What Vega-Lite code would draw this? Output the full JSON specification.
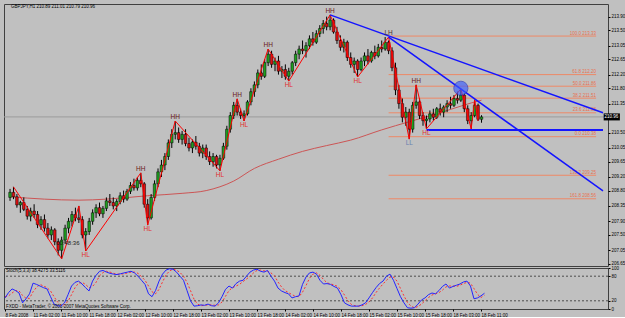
{
"$schema": "https://vega.github.io/schema/vega-lite/v6.json",
"background": "#c0c0c0",
"padding": {"left": 2, "top": 3, "right": 0, "bottom": 0},
"spacing": 2,
"bounds": "flush",
"config": {
  "view": {"stroke": "#404040", "strokeWidth": 1},
  "font": "Liberation Sans",
  "axis": {"title": null, "grid": false, "domain": false, "tickSize": 2, "tickColor": "#000", "labelFontSize": 4.5, "labelColor": "#000", "labelPadding": 1, "labelOverlap": false, "labelFont": "Liberation Sans"}
},
"datasets": {
  "bars": [
{"i":0,"o":208.6,"h":208.85,"l":208.5,"c":208.75,"k":27,"d":30},
{"i":1,"o":208.75,"h":208.91,"l":208.55,"c":208.62,"k":40,"d":32},
{"i":2,"o":208.62,"h":208.7,"l":208.3,"c":208.38,"k":49,"d":39},
{"i":3,"o":208.38,"h":208.5,"l":208.15,"c":208.45,"k":45,"d":45},
{"i":4,"o":208.45,"h":208.6,"l":208.2,"c":208.25,"k":39,"d":44},
{"i":5,"o":208.25,"h":208.35,"l":207.95,"c":208.05,"k":15,"d":33},
{"i":6,"o":208.05,"h":208.3,"l":207.9,"c":208.2,"k":25,"d":26},
{"i":7,"o":208.2,"h":208.4,"l":208.0,"c":208.1,"k":37,"d":26},
{"i":8,"o":208.1,"h":208.2,"l":207.7,"c":207.8,"k":63,"d":42},
{"i":9,"o":207.8,"h":208.05,"l":207.65,"c":207.95,"k":60,"d":53},
{"i":10,"o":207.95,"h":208.1,"l":207.6,"c":207.7,"k":56,"d":60},
{"i":11,"o":207.7,"h":207.85,"l":207.4,"c":207.5,"k":52,"d":56},
{"i":12,"o":207.5,"h":207.75,"l":207.35,"c":207.65,"k":49,"d":52},
{"i":13,"o":207.65,"h":207.7,"l":207.2,"c":207.3,"k":30,"d":44},
{"i":14,"o":207.3,"h":207.4,"l":206.9,"c":207.05,"k":12,"d":30},
{"i":15,"o":207.05,"h":207.45,"l":206.8,"c":207.35,"k":8,"d":17},
{"i":16,"o":207.35,"h":207.8,"l":207.25,"c":207.7,"k":7,"d":9},
{"i":17,"o":207.7,"h":208.0,"l":207.55,"c":207.9,"k":15,"d":10},
{"i":18,"o":207.9,"h":208.2,"l":207.75,"c":208.1,"k":35,"d":19},
{"i":19,"o":208.1,"h":208.3,"l":207.9,"c":208.0,"k":56,"d":35},
{"i":20,"o":208.0,"h":208.35,"l":207.85,"c":207.95,"k":65,"d":52},
{"i":21,"o":207.95,"h":208.05,"l":207.4,"c":207.5,"k":68,"d":63},
{"i":22,"o":207.5,"h":207.7,"l":207.03,"c":207.6,"k":61,"d":65},
{"i":23,"o":207.6,"h":208.0,"l":207.5,"c":207.9,"k":52,"d":60},
{"i":24,"o":207.9,"h":208.25,"l":207.8,"c":208.15,"k":44,"d":52},
{"i":25,"o":208.15,"h":208.4,"l":208.0,"c":208.3,"k":68,"d":55},
{"i":26,"o":208.3,"h":208.45,"l":208.05,"c":208.12,"k":82,"d":65},
{"i":27,"o":208.12,"h":208.35,"l":208.0,"c":208.28,"k":92,"d":81},
{"i":28,"o":208.28,"h":208.6,"l":208.2,"c":208.5,"k":94,"d":89},
{"i":29,"o":208.5,"h":208.7,"l":208.35,"c":208.45,"k":90,"d":92},
{"i":30,"o":208.45,"h":208.6,"l":208.25,"c":208.35,"k":87,"d":90},
{"i":31,"o":208.35,"h":208.55,"l":208.2,"c":208.48,"k":85,"d":87},
{"i":32,"o":208.48,"h":208.75,"l":208.4,"c":208.65,"k":84,"d":85},
{"i":33,"o":208.65,"h":208.8,"l":208.45,"c":208.55,"k":86,"d":85},
{"i":34,"o":208.55,"h":208.85,"l":208.5,"c":208.78,"k":88,"d":86},
{"i":35,"o":208.78,"h":209.05,"l":208.7,"c":208.95,"k":90,"d":88},
{"i":36,"o":208.95,"h":209.15,"l":208.8,"c":208.88,"k":92,"d":90},
{"i":37,"o":208.88,"h":209.2,"l":208.8,"c":209.1,"k":88,"d":90},
{"i":38,"o":209.1,"h":209.32,"l":208.9,"c":209.0,"k":80,"d":87},
{"i":39,"o":209.0,"h":209.05,"l":208.3,"c":208.4,"k":70,"d":79},
{"i":40,"o":208.4,"h":208.55,"l":207.79,"c":208.0,"k":60,"d":70},
{"i":41,"o":208.0,"h":208.7,"l":207.95,"c":208.6,"k":37,"d":56},
{"i":42,"o":208.6,"h":209.1,"l":208.5,"c":209.0,"k":30,"d":42},
{"i":43,"o":209.0,"h":209.45,"l":208.9,"c":209.35,"k":45,"d":37},
{"i":44,"o":209.35,"h":209.7,"l":209.2,"c":209.55,"k":68,"d":48},
{"i":45,"o":209.55,"h":209.9,"l":209.4,"c":209.8,"k":85,"d":66},
{"i":46,"o":209.8,"h":210.3,"l":209.7,"c":210.2,"k":95,"d":83},
{"i":47,"o":210.2,"h":210.6,"l":210.05,"c":210.45,"k":98,"d":93},
{"i":48,"o":210.45,"h":210.84,"l":210.3,"c":210.5,"k":97,"d":97},
{"i":49,"o":210.5,"h":210.65,"l":210.2,"c":210.3,"k":90,"d":95},
{"i":50,"o":210.3,"h":210.55,"l":210.15,"c":210.45,"k":80,"d":89},
{"i":51,"o":210.45,"h":210.6,"l":210.1,"c":210.18,"k":70,"d":80},
{"i":52,"o":210.18,"h":210.35,"l":209.95,"c":210.05,"k":45,"d":65},
{"i":53,"o":210.05,"h":210.3,"l":209.9,"c":210.22,"k":20,"d":45},
{"i":54,"o":210.22,"h":210.4,"l":210.0,"c":210.1,"k":7,"d":24},
{"i":55,"o":210.1,"h":210.2,"l":209.8,"c":209.9,"k":8,"d":12},
{"i":56,"o":209.9,"h":210.15,"l":209.75,"c":210.05,"k":10,"d":8},
{"i":57,"o":210.05,"h":210.15,"l":209.7,"c":209.8,"k":9,"d":9},
{"i":58,"o":209.8,"h":209.95,"l":209.55,"c":209.65,"k":12,"d":10},
{"i":59,"o":209.65,"h":209.9,"l":209.5,"c":209.8,"k":8,"d":10},
{"i":60,"o":209.8,"h":209.85,"l":209.45,"c":209.55,"k":7,"d":9},
{"i":61,"o":209.55,"h":209.85,"l":209.38,"c":209.75,"k":15,"d":10},
{"i":62,"o":209.75,"h":210.2,"l":209.7,"c":210.1,"k":30,"d":17},
{"i":63,"o":210.1,"h":210.7,"l":210.0,"c":210.6,"k":48,"d":31},
{"i":64,"o":210.6,"h":211.1,"l":210.5,"c":211.0,"k":56,"d":45},
{"i":65,"o":211.0,"h":211.4,"l":210.9,"c":211.3,"k":51,"d":52},
{"i":66,"o":211.3,"h":211.49,"l":211.0,"c":211.1,"k":62,"d":56},
{"i":67,"o":211.1,"h":211.2,"l":210.9,"c":211.0,"k":68,"d":60},
{"i":68,"o":211.0,"h":211.15,"l":210.84,"c":211.05,"k":70,"d":67},
{"i":69,"o":211.05,"h":211.45,"l":211.0,"c":211.4,"k":80,"d":73},
{"i":70,"o":211.4,"h":211.8,"l":211.3,"c":211.7,"k":90,"d":80},
{"i":71,"o":211.7,"h":212.0,"l":211.55,"c":211.9,"k":95,"d":88},
{"i":72,"o":211.9,"h":212.35,"l":211.8,"c":212.25,"k":97,"d":94},
{"i":73,"o":212.25,"h":212.5,"l":212.05,"c":212.15,"k":92,"d":95},
{"i":74,"o":212.15,"h":212.65,"l":212.1,"c":212.55,"k":90,"d":93},
{"i":75,"o":212.55,"h":212.95,"l":212.45,"c":212.8,"k":94,"d":92},
{"i":76,"o":212.8,"h":212.9,"l":212.4,"c":212.5,"k":80,"d":88},
{"i":77,"o":212.5,"h":212.7,"l":212.3,"c":212.6,"k":68,"d":81},
{"i":78,"o":212.6,"h":212.75,"l":212.2,"c":212.3,"k":51,"d":66},
{"i":79,"o":212.3,"h":212.45,"l":212.1,"c":212.35,"k":44,"d":54},
{"i":80,"o":212.35,"h":212.5,"l":212.05,"c":212.15,"k":40,"d":45},
{"i":81,"o":212.15,"h":212.4,"l":212.01,"c":212.3,"k":37,"d":40},
{"i":82,"o":212.3,"h":212.6,"l":212.2,"c":212.55,"k":27,"d":35},
{"i":83,"o":212.55,"h":212.9,"l":212.45,"c":212.8,"k":30,"d":31},
{"i":84,"o":212.8,"h":213.05,"l":212.65,"c":212.95,"k":32,"d":30},
{"i":85,"o":212.95,"h":213.2,"l":212.8,"c":212.9,"k":60,"d":41},
{"i":86,"o":212.9,"h":213.15,"l":212.7,"c":213.05,"k":78,"d":57},
{"i":87,"o":213.05,"h":213.35,"l":212.95,"c":213.25,"k":88,"d":75},
{"i":88,"o":213.25,"h":213.45,"l":213.05,"c":213.15,"k":90,"d":85},
{"i":89,"o":213.15,"h":213.5,"l":213.1,"c":213.4,"k":85,"d":88},
{"i":90,"o":213.4,"h":213.65,"l":213.3,"c":213.55,"k":70,"d":82},
{"i":91,"o":213.55,"h":213.8,"l":213.4,"c":213.7,"k":61,"d":72},
{"i":92,"o":213.7,"h":213.9,"l":213.5,"c":213.6,"k":62,"d":64},
{"i":93,"o":213.6,"h":213.95,"l":213.5,"c":213.8,"k":60,"d":61},
{"i":94,"o":213.8,"h":213.85,"l":213.4,"c":213.45,"k":55,"d":59},
{"i":95,"o":213.45,"h":213.6,"l":213.1,"c":213.2,"k":51,"d":55},
{"i":96,"o":213.2,"h":213.35,"l":212.9,"c":213.0,"k":35,"d":47},
{"i":97,"o":213.0,"h":213.25,"l":212.85,"c":213.15,"k":15,"d":34},
{"i":98,"o":213.15,"h":213.2,"l":212.6,"c":212.7,"k":10,"d":20},
{"i":99,"o":212.7,"h":212.85,"l":212.4,"c":212.5,"k":7,"d":11},
{"i":100,"o":212.5,"h":212.7,"l":212.25,"c":212.6,"k":7,"d":8},
{"i":101,"o":212.6,"h":212.65,"l":212.13,"c":212.35,"k":7,"d":7},
{"i":102,"o":212.35,"h":212.7,"l":212.3,"c":212.6,"k":10,"d":8},
{"i":103,"o":212.6,"h":212.85,"l":212.45,"c":212.75,"k":15,"d":11},
{"i":104,"o":212.75,"h":212.95,"l":212.5,"c":212.6,"k":27,"d":17},
{"i":105,"o":212.6,"h":212.9,"l":212.55,"c":212.85,"k":40,"d":27},
{"i":106,"o":212.85,"h":213.05,"l":212.65,"c":212.75,"k":52,"d":40},
{"i":107,"o":212.75,"h":213.1,"l":212.7,"c":213.0,"k":62,"d":51},
{"i":108,"o":213.0,"h":213.2,"l":212.85,"c":212.95,"k":68,"d":61},
{"i":109,"o":212.95,"h":213.3,"l":212.9,"c":213.15,"k":80,"d":70},
{"i":110,"o":213.15,"h":213.2,"l":212.8,"c":212.9,"k":85,"d":78},
{"i":111,"o":212.9,"h":213.0,"l":212.3,"c":212.4,"k":70,"d":78},
{"i":112,"o":212.4,"h":212.55,"l":211.6,"c":211.75,"k":50,"d":68},
{"i":113,"o":211.75,"h":211.9,"l":211.2,"c":211.35,"k":30,"d":50},
{"i":114,"o":211.35,"h":211.5,"l":210.8,"c":210.95,"k":15,"d":32},
{"i":115,"o":210.95,"h":211.25,"l":210.7,"c":211.1,"k":3,"d":16},
{"i":116,"o":211.1,"h":211.2,"l":210.31,"c":210.6,"k":2,"d":7},
{"i":117,"o":210.6,"h":211.4,"l":210.5,"c":211.3,"k":3,"d":3},
{"i":118,"o":211.3,"h":211.9,"l":211.2,"c":211.4,"k":12,"d":6},
{"i":119,"o":211.4,"h":211.5,"l":210.9,"c":211.0,"k":22,"d":12},
{"i":120,"o":211.0,"h":211.1,"l":210.7,"c":210.85,"k":27,"d":20},
{"i":121,"o":210.85,"h":211.0,"l":210.61,"c":210.9,"k":35,"d":28},
{"i":122,"o":210.9,"h":211.15,"l":210.8,"c":211.05,"k":39,"d":34},
{"i":123,"o":211.05,"h":211.2,"l":210.85,"c":210.95,"k":37,"d":37},
{"i":124,"o":210.95,"h":211.25,"l":210.9,"c":211.2,"k":45,"d":40},
{"i":125,"o":211.2,"h":211.35,"l":211.0,"c":211.1,"k":55,"d":46},
{"i":126,"o":211.1,"h":211.3,"l":210.95,"c":211.25,"k":61,"d":54},
{"i":127,"o":211.25,"h":211.45,"l":211.1,"c":211.35,"k":51,"d":56},
{"i":128,"o":211.35,"h":211.55,"l":211.2,"c":211.3,"k":55,"d":56},
{"i":129,"o":211.3,"h":211.6,"l":211.25,"c":211.5,"k":58,"d":55},
{"i":130,"o":211.5,"h":211.7,"l":211.35,"c":211.45,"k":61,"d":58},
{"i":131,"o":211.45,"h":211.78,"l":211.4,"c":211.6,"k":66,"d":62},
{"i":132,"o":211.6,"h":211.65,"l":211.1,"c":211.2,"k":68,"d":65},
{"i":133,"o":211.2,"h":211.3,"l":210.75,"c":210.85,"k":56,"d":63},
{"i":134,"o":210.85,"h":211.1,"l":210.61,"c":211.0,"k":25,"d":50},
{"i":135,"o":211.0,"h":211.46,"l":210.95,"c":211.3,"k":27,"d":36},
{"i":136,"o":211.3,"h":211.35,"l":210.84,"c":210.89,"k":32,"d":28},
{"i":137,"o":210.89,"h":211.01,"l":210.79,"c":210.96,"k":38.43,"d":33.51}
  ],
  "zz": [
{"i":1,"p":208.91},{"i":15,"p":206.8},{"i":20,"p":208.35},{"i":22,"p":207.03},{"i":38,"p":209.32},{"i":40,"p":207.79},{"i":48,"p":210.84},{"i":61,"p":209.38},{"i":66,"p":211.49},{"i":68,"p":210.84},{"i":75,"p":212.95},{"i":81,"p":212.01},{"i":93,"p":213.95},{"i":101,"p":212.13},{"i":110,"p":213.3},{"i":116,"p":210.31},{"i":118,"p":211.9},{"i":121,"p":210.61},{"i":131,"p":211.78},{"i":134,"p":210.61},{"i":135,"p":211.46},{"i":136,"p":210.84}
  ],
  "ma": [
{"i":0,"v":208.62},{"i":10,"v":208.55},{"i":20,"v":208.52},{"i":28,"v":208.55},{"i":40,"v":208.65},{"i":50,"v":208.72},{"i":57,"v":208.8},{"i":65,"v":209.08},{"i":71,"v":209.45},{"i":78,"v":209.72},{"i":85,"v":209.95},{"i":92,"v":210.12},{"i":99,"v":210.28},{"i":108,"v":210.58},{"i":116,"v":210.82},{"i":124,"v":211.05},{"i":134,"v":211.37},{"i":137,"v":211.45}
  ],
  "fib": [
{"p":213.33,"txt":"100.0  213.33"},{"p":212.2,"txt":"61.8  212.20"},{"p":211.86,"txt":"50.0  211.86"},{"p":211.51,"txt":"38.2  211.51"},{"p":211.08,"txt":"23.6  211.08"},{"p":210.38,"txt":"0.0  210.38"},{"p":209.25,"txt":"138.2  209.25"},{"p":208.56,"txt":"161.8  208.56"}
  ],
  "tl": [
{"id":1,"i":93,"p":213.95},{"id":1,"i":172.3,"p":211.08},{"id":2,"i":110,"p":213.3},{"id":2,"i":172.3,"p":208.79}
  ],
  "hz": [{"p":210.58}],
  "circ": [{"i":131,"p":211.8}],
  "lblh": [
{"i":38,"p":209.32,"t":"HH"},{"i":48,"p":210.84,"t":"HH"},{"i":66,"p":211.49,"t":"HH"},{"i":75,"p":212.95,"t":"HH"},{"i":93,"p":213.95,"t":"HH"},{"i":110,"p":213.3,"t":"LH"},{"i":118,"p":211.9,"t":"HH"}
  ],
  "lbll": [
{"i":22,"p":207.03,"t":"HL"},{"i":40,"p":207.79,"t":"HL"},{"i":61,"p":209.38,"t":"HL"},{"i":68,"p":210.84,"t":"HL"},{"i":81,"p":212.01,"t":"HL"},{"i":101,"p":212.13,"t":"HL"},{"i":116,"p":210.31,"t":"LL"},{"i":121,"p":210.61,"t":"HL"}
  ],
  "bid": [{"p":210.96}],
  "lev": [{"v":20},{"v":80}]
},
"vconcat": [
{
  "width": 604, "height": 262,
  "layer": [
    {"data": {"name": "bid"}, "mark": {"type": "rule", "color": "#9c9c9c", "strokeWidth": 1},
     "encoding": {"y": {"field": "p", "type": "quantitative", "scale": {"domain": [206.59, 214.27], "nice": false, "zero": false},
        "axis": {"orient": "right", "values": [206.65, 207.05, 207.5, 207.9, 208.35, 208.8, 209.2, 209.65, 210.05, 210.5, 211.35, 211.8, 212.2, 212.65, 213.05, 213.5, 213.9], "format": ".2f"}}}},
    {"data": {"name": "ma"}, "mark": {"type": "line", "color": "#cc5555", "strokeWidth": 1, "interpolate": "monotone"},
     "encoding": {"x": {"field": "i", "type": "quantitative", "scale": {"domain": [-0.3, 172.3], "nice": false, "zero": false}, "axis": null},
                  "y": {"field": "v", "type": "quantitative", "scale": {"domain": [206.59, 214.27], "nice": false, "zero": false},
        "axis": {"orient": "right", "values": [206.65, 207.05, 207.5, 207.9, 208.35, 208.8, 209.2, 209.65, 210.05, 210.5, 211.35, 211.8, 212.2, 212.65, 213.05, 213.5, 213.9], "format": ".2f"}}}},
    {"data": {"name": "fib"}, "mark": {"type": "rule", "color": "#ee8866", "strokeWidth": 1},
     "encoding": {"x": {"datum": 110, "type": "quantitative", "scale": {"domain": [-0.3, 172.3], "nice": false, "zero": false}, "axis": null},
                  "x2": {"datum": 170.3},
                  "y": {"field": "p", "type": "quantitative", "scale": {"domain": [206.59, 214.27], "nice": false, "zero": false},
        "axis": {"orient": "right", "values": [206.65, 207.05, 207.5, 207.9, 208.35, 208.8, 209.2, 209.65, 210.05, 210.5, 211.35, 211.8, 212.2, 212.65, 213.05, 213.5, 213.9], "format": ".2f"}}}},
    {"data": {"name": "fib"}, "mark": {"type": "text", "color": "#e87050", "fontSize": 4.5, "align": "right", "baseline": "bottom", "dy": -0.5},
     "encoding": {"x": {"datum": 170.3, "type": "quantitative", "scale": {"domain": [-0.3, 172.3], "nice": false, "zero": false}, "axis": null},
                  "y": {"field": "p", "type": "quantitative", "scale": {"domain": [206.59, 214.27], "nice": false, "zero": false},
        "axis": {"orient": "right", "values": [206.65, 207.05, 207.5, 207.9, 208.35, 208.8, 209.2, 209.65, 210.05, 210.5, 211.35, 211.8, 212.2, 212.65, 213.05, 213.5, 213.9], "format": ".2f"}},
                  "text": {"field": "txt"}}},
    {"data": {"name": "bars"}, "mark": {"type": "rule", "color": "#000", "strokeWidth": 1},
     "encoding": {"x": {"field": "i", "type": "quantitative", "scale": {"domain": [-0.3, 172.3], "nice": false, "zero": false}, "axis": null},
                  "y": {"field": "l", "type": "quantitative", "scale": {"domain": [206.59, 214.27], "nice": false, "zero": false},
        "axis": {"orient": "right", "values": [206.65, 207.05, 207.5, 207.9, 208.35, 208.8, 209.2, 209.65, 210.05, 210.5, 211.35, 211.8, 212.2, 212.65, 213.05, 213.5, 213.9], "format": ".2f"}},
                  "y2": {"field": "h"}}},
    {"data": {"name": "bars"}, "mark": {"type": "bar", "size": 2.6, "stroke": "#000", "strokeWidth": 0.5},
     "encoding": {"x": {"field": "i", "type": "quantitative", "scale": {"domain": [-0.3, 172.3], "nice": false, "zero": false}, "axis": null},
                  "y": {"field": "o", "type": "quantitative", "scale": {"domain": [206.59, 214.27], "nice": false, "zero": false},
        "axis": {"orient": "right", "values": [206.65, 207.05, 207.5, 207.9, 208.35, 208.8, 209.2, 209.65, 210.05, 210.5, 211.35, 211.8, 212.2, 212.65, 213.05, 213.5, 213.9], "format": ".2f"}},
                  "y2": {"field": "c"},
                  "color": {"condition": {"test": "datum.c >= datum.o", "value": "#1f9e1f"}, "value": "#e01010"}}},
    {"data": {"name": "zz"}, "mark": {"type": "line", "color": "#ff0000", "strokeWidth": 1},
     "encoding": {"x": {"field": "i", "type": "quantitative", "scale": {"domain": [-0.3, 172.3], "nice": false, "zero": false}, "axis": null},
                  "y": {"field": "p", "type": "quantitative", "scale": {"domain": [206.59, 214.27], "nice": false, "zero": false},
        "axis": {"orient": "right", "values": [206.65, 207.05, 207.5, 207.9, 208.35, 208.8, 209.2, 209.65, 210.05, 210.5, 211.35, 211.8, 212.2, 212.65, 213.05, 213.5, 213.9], "format": ".2f"}}}},
    {"data": {"name": "tl"}, "mark": {"type": "line", "color": "#1414ff", "strokeWidth": 1.5},
     "encoding": {"x": {"field": "i", "type": "quantitative", "scale": {"domain": [-0.3, 172.3], "nice": false, "zero": false}, "axis": null},
                  "y": {"field": "p", "type": "quantitative", "scale": {"domain": [206.59, 214.27], "nice": false, "zero": false},
        "axis": {"orient": "right", "values": [206.65, 207.05, 207.5, 207.9, 208.35, 208.8, 209.2, 209.65, 210.05, 210.5, 211.35, 211.8, 212.2, 212.65, 213.05, 213.5, 213.9], "format": ".2f"}},
                  "detail": {"field": "id", "type": "nominal"}}},
    {"data": {"name": "hz"}, "mark": {"type": "rule", "color": "#1414ff", "strokeWidth": 2},
     "encoding": {"x": {"datum": 121, "type": "quantitative", "scale": {"domain": [-0.3, 172.3], "nice": false, "zero": false}, "axis": null},
                  "x2": {"datum": 172.3},
                  "y": {"field": "p", "type": "quantitative", "scale": {"domain": [206.59, 214.27], "nice": false, "zero": false},
        "axis": {"orient": "right", "values": [206.65, 207.05, 207.5, 207.9, 208.35, 208.8, 209.2, 209.65, 210.05, 210.5, 211.35, 211.8, 212.2, 212.65, 213.05, 213.5, 213.9], "format": ".2f"}}}},
    {"data": {"name": "circ"}, "mark": {"type": "point", "filled": true, "color": "#3a5cff", "opacity": 0.65, "size": 200, "stroke": "#2030c0", "strokeWidth": 1},
     "encoding": {"x": {"field": "i", "type": "quantitative", "scale": {"domain": [-0.3, 172.3], "nice": false, "zero": false}, "axis": null},
                  "y": {"field": "p", "type": "quantitative", "scale": {"domain": [206.59, 214.27], "nice": false, "zero": false},
        "axis": {"orient": "right", "values": [206.65, 207.05, 207.5, 207.9, 208.35, 208.8, 209.2, 209.65, 210.05, 210.5, 211.35, 211.8, 212.2, 212.65, 213.05, 213.5, 213.9], "format": ".2f"}}}},
    {"data": {"name": "lblh"}, "mark": {"type": "text", "fontSize": 6.5, "baseline": "bottom", "dy": -1},
     "encoding": {"x": {"field": "i", "type": "quantitative", "scale": {"domain": [-0.3, 172.3], "nice": false, "zero": false}, "axis": null},
                  "y": {"field": "p", "type": "quantitative", "scale": {"domain": [206.59, 214.27], "nice": false, "zero": false},
        "axis": {"orient": "right", "values": [206.65, 207.05, 207.5, 207.9, 208.35, 208.8, 209.2, 209.65, 210.05, 210.5, 211.35, 211.8, 212.2, 212.65, 213.05, 213.5, 213.9], "format": ".2f"}},
                  "text": {"field": "t"},
                  "color": {"field": "t", "type": "nominal", "scale": {"domain": ["HH", "HL", "LH", "LL"], "range": ["#6a1a1a", "#e03030", "#4a3030", "#6a80b0"]}, "legend": null}}},
    {"data": {"name": "lbll"}, "mark": {"type": "text", "fontSize": 6.5, "baseline": "top", "dy": 1},
     "encoding": {"x": {"field": "i", "type": "quantitative", "scale": {"domain": [-0.3, 172.3], "nice": false, "zero": false}, "axis": null},
                  "y": {"field": "p", "type": "quantitative", "scale": {"domain": [206.59, 214.27], "nice": false, "zero": false},
        "axis": {"orient": "right", "values": [206.65, 207.05, 207.5, 207.9, 208.35, 208.8, 209.2, 209.65, 210.05, 210.5, 211.35, 211.8, 212.2, 212.65, 213.05, 213.5, 213.9], "format": ".2f"}},
                  "text": {"field": "t"},
                  "color": {"field": "t", "type": "nominal", "scale": {"domain": ["HH", "HL", "LH", "LL"], "range": ["#6a1a1a", "#e03030", "#4a3030", "#6a80b0"]}, "legend": null}}},
    {"data": {"values": [{"t": "GBPJPY,H1  210.89 211.01 210.79 210.96"}]}, "mark": {"type": "text", "fontSize": 4.5, "align": "left", "baseline": "middle", "color": "#000"},
     "encoding": {"x": {"datum": 0.3, "type": "quantitative", "scale": {"domain": [-0.3, 172.3], "nice": false, "zero": false}, "axis": null},
                  "y": {"datum": 214.18, "type": "quantitative", "scale": {"domain": [206.59, 214.27], "nice": false, "zero": false},
        "axis": {"orient": "right", "values": [206.65, 207.05, 207.5, 207.9, 208.35, 208.8, 209.2, 209.65, 210.05, 210.5, 211.35, 211.8, 212.2, 212.65, 213.05, 213.5, 213.9], "format": ".2f"}},
                  "text": {"field": "t"}}},
    {"data": {"values": [{"t": "00:48:36"}]}, "mark": {"type": "text", "fontSize": 6, "align": "left", "baseline": "middle", "color": "#1a1a1a"},
     "encoding": {"x": {"datum": 13.4, "type": "quantitative", "scale": {"domain": [-0.3, 172.3], "nice": false, "zero": false}, "axis": null},
                  "y": {"datum": 207.27, "type": "quantitative", "scale": {"domain": [206.59, 214.27], "nice": false, "zero": false},
        "axis": {"orient": "right", "values": [206.65, 207.05, 207.5, 207.9, 208.35, 208.8, 209.2, 209.65, 210.05, 210.5, 211.35, 211.8, 212.2, 212.65, 213.05, 213.5, 213.9], "format": ".2f"}},
                  "text": {"field": "t"}}},
    {"data": {"name": "bid"}, "mark": {"type": "rule", "color": "#000", "strokeWidth": 7},
     "encoding": {"x": {"datum": 172.5, "type": "quantitative", "scale": {"domain": [-0.3, 172.3], "nice": false, "zero": false}, "axis": null},
                  "x2": {"datum": 177.2},
                  "y": {"field": "p", "type": "quantitative", "scale": {"domain": [206.59, 214.27], "nice": false, "zero": false},
        "axis": {"orient": "right", "values": [206.65, 207.05, 207.5, 207.9, 208.35, 208.8, 209.2, 209.65, 210.05, 210.5, 211.35, 211.8, 212.2, 212.65, 213.05, 213.5, 213.9], "format": ".2f"}}}},
    {"data": {"name": "bid"}, "mark": {"type": "text", "fontSize": 4.5, "align": "left", "baseline": "middle", "color": "#ffffff"},
     "encoding": {"x": {"datum": 172.75, "type": "quantitative", "scale": {"domain": [-0.3, 172.3], "nice": false, "zero": false}, "axis": null},
                  "y": {"field": "p", "type": "quantitative", "scale": {"domain": [206.59, 214.27], "nice": false, "zero": false},
        "axis": {"orient": "right", "values": [206.65, 207.05, 207.5, 207.9, 208.35, 208.8, 209.2, 209.65, 210.05, 210.5, 211.35, 211.8, 212.2, 212.65, 213.05, 213.5, 213.9], "format": ".2f"}},
                  "text": {"field": "p", "type": "quantitative", "format": ".2f"}}}
  ]
},
{
  "width": 604, "height": 41,
  "layer": [
    {"data": {"name": "lev"}, "mark": {"type": "rule", "color": "#303030", "strokeWidth": 0.8, "strokeDash": [2, 2]},
     "encoding": {"y": {"field": "v", "type": "quantitative", "scale": {"domain": [0, 100], "nice": false}, "axis": {"orient": "right", "values": [0, 20, 80, 100]}}}},
    {"data": {"name": "bars"}, "mark": {"type": "line", "color": "#ff3030", "strokeWidth": 1, "strokeDash": [2, 2]},
     "encoding": {"x": {"field": "i", "type": "quantitative", "scale": {"domain": [-0.3, 172.3], "nice": false, "zero": false},
                        "axis": {"orient": "bottom", "values": [0, 8, 16, 24, 32, 40, 48, 56, 64, 72, 80, 88, 96, 104, 112, 120, 128, 136], "labelAlign": "left",
                                 "labelExpr": "['8 Feb 2008','11 Feb 02:00','11 Feb 10:00','11 Feb 18:00','12 Feb 02:00','12 Feb 10:00','12 Feb 18:00','13 Feb 02:00','13 Feb 10:00','13 Feb 18:00','14 Feb 02:00','14 Feb 10:00','14 Feb 18:00','15 Feb 02:00','15 Feb 10:00','15 Feb 18:00','18 Feb 03:00','18 Feb 11:00'][round(datum.value/8)]"}},
                  "y": {"field": "d", "type": "quantitative", "scale": {"domain": [0, 100], "nice": false}, "axis": {"orient": "right", "values": [0, 20, 80, 100]}}}},
    {"data": {"name": "bars"}, "mark": {"type": "line", "color": "#2424ff", "strokeWidth": 1},
     "encoding": {"x": {"field": "i", "type": "quantitative", "scale": {"domain": [-0.3, 172.3], "nice": false, "zero": false},
                        "axis": {"orient": "bottom", "values": [0, 8, 16, 24, 32, 40, 48, 56, 64, 72, 80, 88, 96, 104, 112, 120, 128, 136], "labelAlign": "left",
                                 "labelExpr": "['8 Feb 2008','11 Feb 02:00','11 Feb 10:00','11 Feb 18:00','12 Feb 02:00','12 Feb 10:00','12 Feb 18:00','13 Feb 02:00','13 Feb 10:00','13 Feb 18:00','14 Feb 02:00','14 Feb 10:00','14 Feb 18:00','15 Feb 02:00','15 Feb 10:00','15 Feb 18:00','18 Feb 03:00','18 Feb 11:00'][round(datum.value/8)]"}},
                  "y": {"field": "k", "type": "quantitative", "scale": {"domain": [0, 100], "nice": false}, "axis": {"orient": "right", "values": [0, 20, 80, 100]}}}},
    {"data": {"values": [{"t": "Stoch(5,3,3) 38.4275 33.5116"}]}, "mark": {"type": "text", "fontSize": 4.5, "align": "left", "baseline": "middle", "color": "#000"},
     "encoding": {"x": {"datum": 0.3, "type": "quantitative", "scale": {"domain": [-0.3, 172.3], "nice": false, "zero": false},
                        "axis": {"orient": "bottom", "values": [0, 8, 16, 24, 32, 40, 48, 56, 64, 72, 80, 88, 96, 104, 112, 120, 128, 136], "labelAlign": "left",
                                 "labelExpr": "['8 Feb 2008','11 Feb 02:00','11 Feb 10:00','11 Feb 18:00','12 Feb 02:00','12 Feb 10:00','12 Feb 18:00','13 Feb 02:00','13 Feb 10:00','13 Feb 18:00','14 Feb 02:00','14 Feb 10:00','14 Feb 18:00','15 Feb 02:00','15 Feb 10:00','15 Feb 18:00','18 Feb 03:00','18 Feb 11:00'][round(datum.value/8)]"}},
                  "y": {"datum": 92, "type": "quantitative", "scale": {"domain": [0, 100], "nice": false}, "axis": {"orient": "right", "values": [0, 20, 80, 100]}},
                  "text": {"field": "t"}}},
    {"data": {"values": [{"t": "FXDD - MetaTrader, © 2001-2007 MetaQuotes Software Corp."}]}, "mark": {"type": "text", "fontSize": 4.5, "align": "left", "baseline": "middle", "color": "#000"},
     "encoding": {"x": {"datum": 0.3, "type": "quantitative", "scale": {"domain": [-0.3, 172.3], "nice": false, "zero": false},
                        "axis": {"orient": "bottom", "values": [0, 8, 16, 24, 32, 40, 48, 56, 64, 72, 80, 88, 96, 104, 112, 120, 128, 136], "labelAlign": "left",
                                 "labelExpr": "['8 Feb 2008','11 Feb 02:00','11 Feb 10:00','11 Feb 18:00','12 Feb 02:00','12 Feb 10:00','12 Feb 18:00','13 Feb 02:00','13 Feb 10:00','13 Feb 18:00','14 Feb 02:00','14 Feb 10:00','14 Feb 18:00','15 Feb 02:00','15 Feb 10:00','15 Feb 18:00','18 Feb 03:00','18 Feb 11:00'][round(datum.value/8)]"}},
                  "y": {"datum": 6, "type": "quantitative", "scale": {"domain": [0, 100], "nice": false}, "axis": {"orient": "right", "values": [0, 20, 80, 100]}},
                  "text": {"field": "t"}}}
  ]
}
]
}
